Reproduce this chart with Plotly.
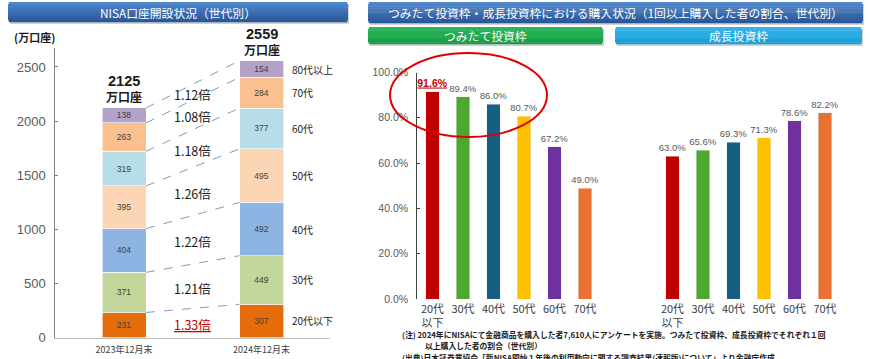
import plotly.graph_objects as go
import numpy as np

W, H = 870, 359

# ---------------- data ----------------
periods = ["2023年12月末", "2024年12月末"]
age_groups = ["20代以下", "30代", "40代", "50代", "60代", "70代", "80代以上"]
accounts_2023 = [231, 371, 404, 395, 319, 263, 138]
accounts_2024 = [307, 449, 492, 495, 377, 284, 154]
totals = [2125, 2559]
ratios = ["1.33倍", "1.21倍", "1.22倍", "1.26倍", "1.18倍", "1.08倍", "1.12倍"]
seg_colors = ["#E46C0A", "#C3D69B", "#8EB4E3", "#FCD5B5", "#B7DEE8", "#FAC090", "#B3A2C7"]
left_ticks = [0, 500, 1000, 1500, 2000, 2500]

age_cats = ["20代<br>以下", "30代", "40代", "50代", "60代", "70代"]
tsumitate = [91.6, 89.4, 86.0, 80.7, 67.2, 49.0]
seicho = [63.0, 65.6, 69.3, 71.3, 78.6, 82.2]
bar_colors = ["#C00000", "#4EA72E", "#156082", "#FFC000", "#7030A0", "#E97132"]
pct_ticks = [0, 20, 40, 60, 80, 100]
pct_labels = [f"{v:.1f}%" for v in pct_ticks]

JP = "Noto Sans CJK JP"
LAT = "Liberation Sans, Noto Sans CJK JP"


def fx(px):
    return px / W


def fy(py):
    return 1 - py / H


fig = go.Figure()

# ---------------- left stacked bars ----------------
BW = 0.32
for i, g in enumerate(age_groups):
    fig.add_trace(go.Bar(
        x=[0, 1], y=[accounts_2023[i], accounts_2024[i]], width=BW,
        marker=dict(color=seg_colors[i], line=dict(color="white", width=0.6)),
        text=[accounts_2023[i], accounts_2024[i]], textposition="inside",
        insidetextanchor="middle", textangle=0, constraintext="none",
        textfont=dict(size=8.5, color="#404040", family=LAT),
        xaxis="x", yaxis="y", showlegend=False, hoverinfo="skip", name=g))

cum1 = np.cumsum(accounts_2023)
cum2 = np.cumsum(accounts_2024)

shapes = []
for i in range(len(age_groups)):
    shapes.append(dict(type="line", xref="x", yref="y",
                       x0=0 + BW / 2, x1=1 - BW / 2, y0=cum1[i], y1=cum2[i],
                       line=dict(color="#7F9CC0", width=1, dash="dash")))

annotations = []
for i, r in enumerate(ratios):
    ym = ((cum1[i] - accounts_2023[i] / 2) + (cum2[i] - accounts_2024[i] / 2)) / 2
    txt = f"<u>{r}</u>" if i == 0 else r
    col = "#C00000" if i == 0 else "#1a1a1a"
    annotations.append(dict(x=0.5, y=ym, xref="x", yref="y", text=txt, showarrow=False,
                            xanchor="center", yanchor="middle",
                            yshift=-2, font=dict(size=12.5, color=col, family=JP)))
    annotations.append(dict(x=1, y=cum2[i] - accounts_2024[i] / 2, xref="x", yref="y",
                            text=age_groups[i], showarrow=False, xanchor="left",
                            yanchor="middle",
                            xshift=28, font=dict(size=10, color="#1a1a1a", family=JP)))

for k, tot in enumerate(totals):
    top = [cum1[-1], cum2[-1]][k]
    annotations.append(dict(x=k, y=top, xref="x", yref="y", text="<b>万口座</b>",
                            showarrow=False, xanchor="center", yanchor="bottom", yshift=1,
                            font=dict(size=12, color="#1a1a1a", family=JP)))
    annotations.append(dict(x=k, y=top, xref="x", yref="y", text=f"<b>{tot}</b>",
                            showarrow=False, xanchor="center", yanchor="bottom", yshift=17,
                            font=dict(size=14.5, color="#1a1a1a", family=LAT)))

annotations.append(dict(x=fx(12), y=fy(37), xref="paper", yref="paper", xanchor="left",
                        yanchor="middle",
                        text="<b>(万口座)</b>", showarrow=False,
                        font=dict(size=11, color="#1a1a1a", family=JP)))

# ---------------- right bars ----------------
t_text = [f"{v:.1f}%" for v in tsumitate]
t_text[0] = f"<b><u>{t_text[0]}</u></b>"
t_col = ["#595959"] * len(tsumitate)
t_col[0] = "#C00000"
t_size = [9.5] * len(tsumitate)
t_size[0] = 10.5

fig.add_trace(go.Bar(
    x=age_cats, y=tsumitate, width=0.44, marker=dict(color=bar_colors),
    text=t_text, textposition="outside", cliponaxis=False, constraintext="none",
    textfont=dict(size=t_size, color=t_col, family=LAT),
    xaxis="x2", yaxis="y2", showlegend=False, hoverinfo="skip"))
fig.add_trace(go.Bar(
    x=age_cats, y=seicho, width=0.44, marker=dict(color=bar_colors),
    text=[f"{v:.1f}%" for v in seicho], textposition="outside", cliponaxis=False,
    constraintext="none",
    textfont=dict(size=9.5, color="#595959", family=LAT),
    xaxis="x3", yaxis="y2", showlegend=False, hoverinfo="skip"))

# red ellipse
shapes.append(dict(type="circle", xref="paper", yref="paper",
                   x0=fx(390), x1=fx(547), y0=fy(137), y1=fy(53),
                   line=dict(color="#E00000", width=2)))


# ---------------- banners ----------------
def hexrgb(h):
    h = h.lstrip("#")
    return [int(h[i:i + 2], 16) for i in (0, 2, 4)]


def banner(x0, y0, x1, y1, ctop, cbot, r=3, n=10):
    out = []
    out.append(dict(type="rect", xref="paper", yref="paper", x0=fx(x0 + 2), x1=fx(x1 + 1),
                    y0=fy(y1 + 2), y1=fy(y0 + 2), line=dict(width=0),
                    fillcolor="rgba(0,0,0,0.18)", layer="below"))
    a, b = hexrgb(ctop), hexrgb(cbot)
    h = (y1 - y0) / n
    for i in range(n):
        ya, yb = y0 + i * h, y0 + (i + 1) * h
        mid = (ya + yb) / 2
        d = min(mid - y0, y1 - mid)
        inset = 0
        if d < r:
            inset = r - np.sqrt(max(r * r - (r - d) ** 2, 0))
        t = i / (n - 1)
        c = [int(a[j] + (b[j] - a[j]) * t) for j in range(3)]
        out.append(dict(type="rect", xref="paper", yref="paper",
                        x0=fx(x0 + inset), x1=fx(x1 - inset), y0=fy(yb + 0.3), y1=fy(ya),
                        line=dict(width=0), fillcolor=f"rgb({c[0]},{c[1]},{c[2]})",
                        layer="below"))
    return out


shapes += banner(8, 2, 348, 22, "#5088D0", "#2B5797")
shapes += banner(368, 2, 863, 23, "#5088D0", "#2B5797")
shapes += banner(368, 27, 603, 44, "#26B859", "#179A44")
shapes += banner(615, 27, 862, 44, "#34B4EA", "#1A9CD6")

banner_txt = [
    ("NISA口座開設状況（世代別）", 178, 12),
    ("つみたて投資枠・成長投資枠における購入状況（1回以上購入した者の割合、世代別）", 615, 12.5),
    ("つみたて投資枠", 485, 35.5),
    ("成長投資枠", 738, 35.5),
]
for t, x, y in banner_txt:
    annotations.append(dict(x=fx(x), y=fy(y), xref="paper", yref="paper", text=t,
                            xanchor="center", yanchor="middle",
                            showarrow=False, font=dict(size=11.8, color="white", family=JP)))

# footnotes
notes = [
    ("(注) 2024年にNISAにて金融商品を購入した者7,610人にアンケートを実施。つみたて投資枠、成長投資枠でそれぞれ１回", 400, 334),
    ("以上購入した者の割合（世代別）", 423, 345.5),
    ("(出典)日本証券業協会「新NISA開始１年後の利用動向に関する調査結果(速報版)について」より金融庁作成", 400, 357.5),
]
for t, x, y in notes:
    annotations.append(dict(x=fx(x), y=fy(y), xref="paper", yref="paper", text=f"<b>{t}</b>",
                            xanchor="left", yanchor="middle", showarrow=False,
                            font=dict(size=7.8, color="#1a1a1a", family=JP)))

fig.update_layout(
    width=W, height=H, margin=dict(l=0, r=0, t=0, b=0, autoexpand=False),
    paper_bgcolor="white", plot_bgcolor="rgba(0,0,0,0)",
    barmode="stack",
    shapes=shapes, annotations=annotations,
    xaxis=dict(domain=[fx(55.25), fx(330.25)], range=[-0.5, 1.5], tickvals=[0, 1],
               ticktext=periods, showline=True, linecolor="#BFBFBF", linewidth=1,
               ticks="", showgrid=False, zeroline=False, anchor="y", automargin=False,
               ticklabelstandoff=4,
               tickfont=dict(size=9, color="#404040", family=JP), fixedrange=True),
    yaxis=dict(domain=[fy(337.5), fy(48)], range=[0, 2675], tickvals=left_ticks,
               showline=True, linecolor="#808080", linewidth=1, ticks="inside",
               ticklen=3, tickcolor="#808080", showgrid=False, zeroline=False,
               ticklabelstandoff=6,
               tickfont=dict(size=13, color="#595959", family=LAT), anchor="x",
               automargin=False, fixedrange=True),
    xaxis2=dict(domain=[fx(417.25), fx(600.25)], anchor="y2", showline=False,
                ticks="", showgrid=False, type="category", automargin=False,
                ticklabelstandoff=2,
                tickfont=dict(size=11, color="#404040", family=JP), fixedrange=True),
    xaxis3=dict(domain=[fx(657.25), fx(840.25)], anchor="y2", showline=False,
                ticks="", showgrid=False, type="category", automargin=False,
                ticklabelstandoff=2,
                tickfont=dict(size=11, color="#404040", family=JP), fixedrange=True),
    yaxis2=dict(domain=[fy(299), fy(72.5)], range=[0, 100], anchor="x2",
                tickmode="array", tickvals=pct_ticks, ticktext=pct_labels,
                showline=True, linecolor="#404040", linewidth=1, ticks="inside",
                ticklen=3, tickcolor="#404040", showgrid=False, zeroline=False,
                automargin=False, ticklabelstandoff=6,
                tickfont=dict(size=10.5, color="#595959", family=LAT), fixedrange=True),
)

fig.write_html("out.html", post_script="document.body.style.margin='0';",
               config={"displayModeBar": False})
